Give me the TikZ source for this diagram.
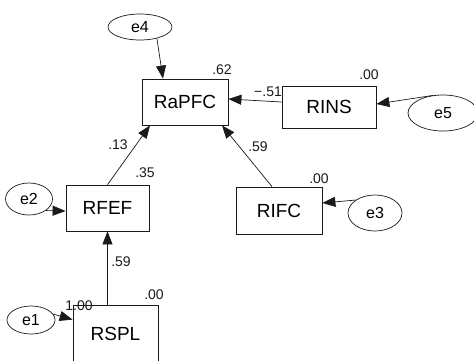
\documentclass[tikz,border=0pt]{standalone}
\usepackage{fontspec}
\setmainfont{Liberation Sans}
\usetikzlibrary{arrows.meta,shapes.geometric}
\definecolor{ink}{HTML}{1A1A1A}
\tikzset{
  obs/.style={rectangle, draw=ink, line width=0.8pt, align=center,
              font=\fontsize{19}{21}\selectfont, inner sep=2pt},
  err/.style={ellipse, draw=ink, line width=0.7pt, inner sep=1pt,
              font=\fontsize{16}{18}\selectfont},
  fl/.style={-{Triangle[length=13pt,width=10pt]}, draw=ink, line width=0.7pt},
  est/.style={font=\fontsize{14}{16}\selectfont, text=ink, inner sep=1pt},
}
\begin{document}
\begin{tikzpicture}[x=1pt, y=-1pt]
\useasboundingbox (0,0) rectangle (474,360);

% --- observed variables -------------------------------------------------
\node[obs, minimum width=86pt, minimum height=46pt] (rapfc) at (185,102) {RaPFC};
\node[obs, minimum width=94pt, minimum height=42pt] (rins) at (329,107) {RINS};
\node[obs, minimum width=83pt, minimum height=46pt] (rfef) at (107.5,208) {RFEF};
\node[obs, minimum width=86pt, minimum height=47pt] (rifc) at (279,210.5) {RIFC};
\node[obs, minimum width=85pt, minimum height=58pt] (rspl) at (115.5,334) {RSPL};

% --- error terms --------------------------------------------------------
\node[err, minimum width=64pt, minimum height=26pt] (e4) at (140,27) {e4};
\node[err, minimum width=70pt, minimum height=36pt] (e5) at (443,113) {e5};
\node[err, minimum width=54pt, minimum height=36pt] (e3) at (375,213) {e3};
\node[err, minimum width=47pt, minimum height=32pt] (e2) at (29,199) {e2};
\node[err, minimum width=48pt, minimum height=28pt] (e1) at (31,320) {e1};

% --- paths --------------------------------------------------------------
\draw[fl] (e4.-34) -- ([xshift=-22pt]rapfc.north);
\draw[fl] (e5.120) -- ([yshift=3pt]rins.east);
\draw[fl] ([yshift=5pt]rins.west) -- ([yshift=3pt]rapfc.east);
\draw[fl] (rfef.north) -- ([xshift=-35pt]rapfc.south);
\draw[fl] ([xshift=-7pt]rifc.north) -- ([xshift=37pt]rapfc.south);
\draw[fl] (e3.north west) -- ([yshift=7.5pt]rifc.east);
\draw[fl] (e2.south east) -- ([yshift=-3pt]rfef.west);
\draw[fl] (e1.15) -- ([yshift=-15pt]rspl.north west);
\draw[fl] (rfef.south |- rspl.north) -- (rfef.south);

% --- estimates ----------------------------------------------------------
\node[est] (r2rapfc) at (222,70) {.62};
\node[est] (wrins) at (268,92) {−.51};
\node[est] (r2rins) at (369,75) {.00};
\node[est] (wrfef) at (118,145) {.13};
\node[est] (r2rfef) at (145,173) {.35};
\node[est] (wrifc) at (258,147) {.59};
\node[est] (r2rifc) at (319,179) {.00};
\node[est] (wrspl) at (121,262) {.59};
\node[est] (r2rspl) at (154,295) {.00};
\node[est] (vare1) at (79,306) {1.00};
\end{tikzpicture}
\end{document}
